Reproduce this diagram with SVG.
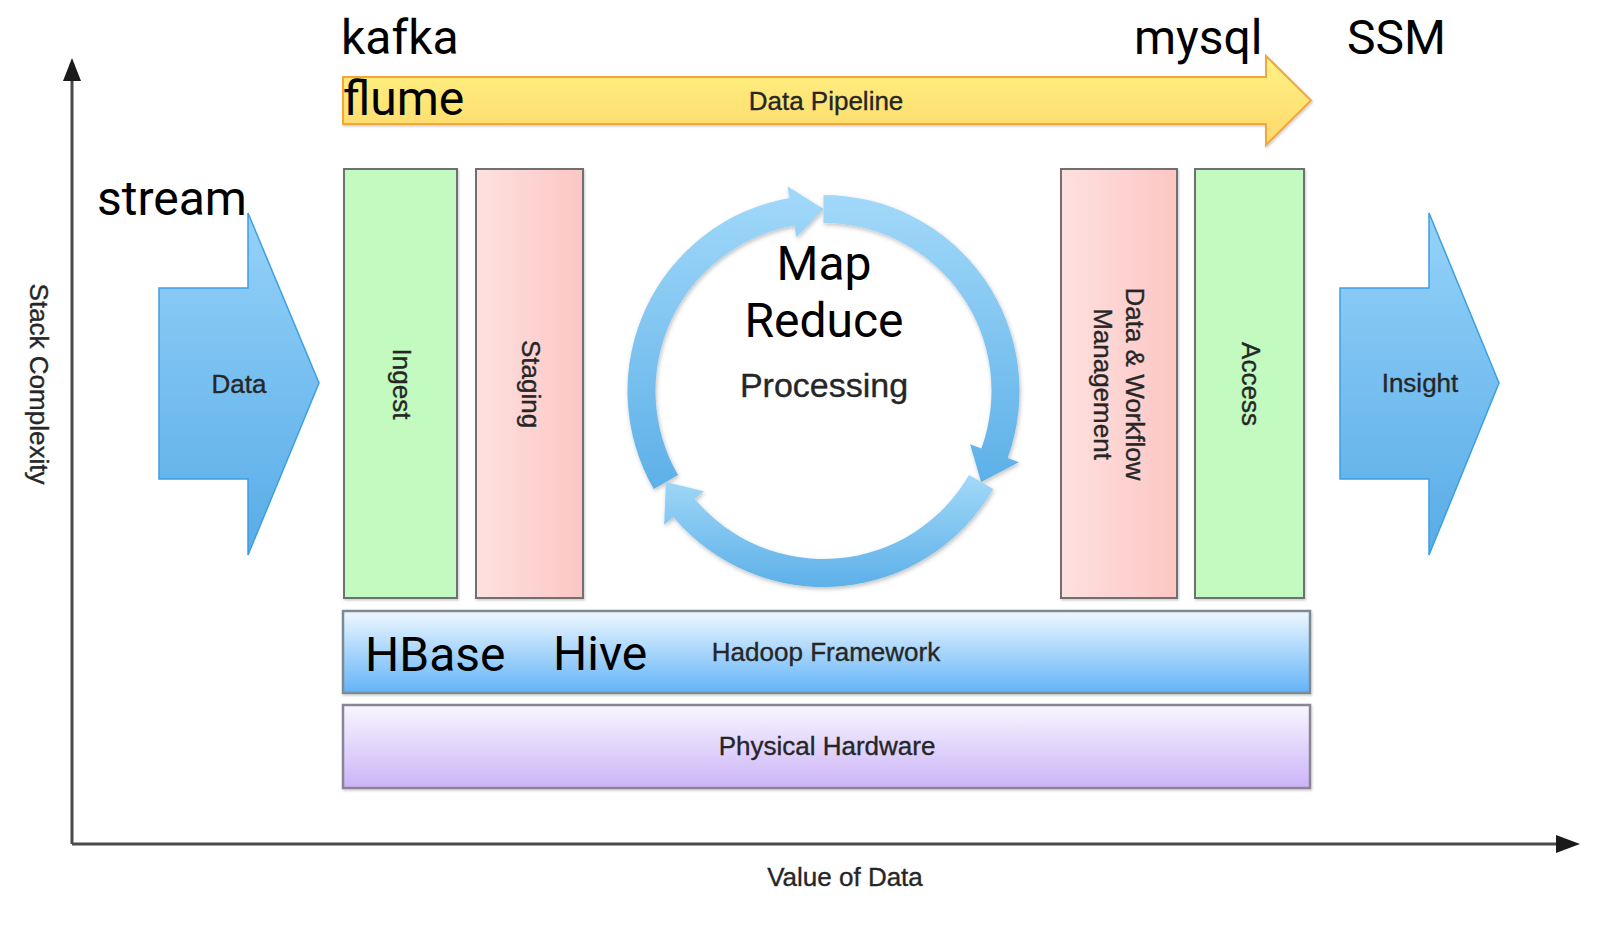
<svg xmlns="http://www.w3.org/2000/svg" width="1604" height="928" viewBox="0 0 1604 928">
  <style>
    .big { font-family: Roboto, "Noto Sans", sans-serif; font-size: 48px; fill: #000; }
    .lbl { font-family: "Liberation Sans", Arial, sans-serif; font-size: 26px; fill: #262626; stroke: #262626; stroke-width: 0.35; }
    .box { stroke: #707070; stroke-width: 2; }
    .axis { stroke: #4a4a4a; stroke-width: 3; fill: none; }
    .ring { fill: url(#ringGrad); filter: url(#shadow); }
  </style>
  <defs>
    <linearGradient id="ringGrad" x1="0" y1="0" x2="0" y2="1">
      <stop offset="0" stop-color="#a2d9f9"/>
      <stop offset="1" stop-color="#5db0e8"/>
    </linearGradient>
    <linearGradient id="blueArrow" x1="0" y1="0" x2="0" y2="1">
      <stop offset="0" stop-color="#95d2f9"/>
      <stop offset="1" stop-color="#58ace7"/>
    </linearGradient>
    <linearGradient id="pipeGrad" x1="0" y1="0" x2="0" y2="1">
      <stop offset="0" stop-color="#fff283"/>
      <stop offset="1" stop-color="#fdd96a"/>
    </linearGradient>
    <linearGradient id="pinkGrad" x1="0" y1="0" x2="1" y2="0">
      <stop offset="0" stop-color="#fde1df"/>
      <stop offset="1" stop-color="#fcc6c4"/>
    </linearGradient>
    <linearGradient id="hadoopGrad" x1="0" y1="0" x2="0" y2="1">
      <stop offset="0" stop-color="#eef8ff"/>
      <stop offset="1" stop-color="#62b3f8"/>
    </linearGradient>
    <linearGradient id="physGrad" x1="0" y1="0" x2="0" y2="1">
      <stop offset="0" stop-color="#f7f7ff"/>
      <stop offset="1" stop-color="#ccb3f8"/>
    </linearGradient>
    <filter id="shadow" x="-10%" y="-10%" width="120%" height="120%">
      <feDropShadow dx="1" dy="2" stdDeviation="2" flood-color="#000" flood-opacity="0.25"/>
    </filter>
    <filter id="soft" x="-5%" y="-5%" width="110%" height="110%">
      <feDropShadow dx="1" dy="1.5" stdDeviation="1.2" flood-color="#000" flood-opacity="0.2"/>
    </filter>
  </defs>

  <rect width="1604" height="928" fill="#fff"/>

  <g id="connectors">
    <g id="y-axis">
      <line class="axis" x1="72" y1="844" x2="72" y2="76"/>
      <polygon points="72,58 63,81 81,81" fill="#1a1a1a"/>
    </g>
    <g id="x-axis">
      <line class="axis" x1="72" y1="844" x2="1560" y2="844"/>
      <polygon points="1580,844 1556,835 1556,853" fill="#1a1a1a"/>
    </g>
  </g>

  <g id="axis-labels">
    <text class="lbl" text-anchor="middle" transform="translate(30,384) rotate(90)">Stack Complexity</text>
    <text class="lbl" x="845" y="886" text-anchor="middle">Value of Data</text>
  </g>

  <g id="pipeline">
    <polygon points="343,77 1266,77 1266,56 1311,100.5 1266,145 1266,124 343,124" fill="url(#pipeGrad)" stroke="#f4a53a" stroke-width="2" filter="url(#soft)"/>
    <text class="lbl" x="826" y="110" text-anchor="middle">Data Pipeline</text>
  </g>

  <g id="data">
    <polygon points="159,288 248,288 248,213 319,383 248,555 248,479 159,479" fill="url(#blueArrow)" stroke="#3d9fe3" stroke-width="1.5"/>
    <text class="lbl" x="239" y="393" text-anchor="middle">Data</text>
  </g>

  <g id="ingest">
    <rect class="box" x="344" y="169" width="113" height="429" fill="#c2fac0" filter="url(#soft)"/>
    <text class="lbl" text-anchor="middle" y="8" transform="translate(400.5,384) rotate(90)">Ingest</text>
  </g>

  <g id="staging">
    <rect class="box" x="476" y="169" width="107" height="429" fill="url(#pinkGrad)" filter="url(#soft)"/>
    <text class="lbl" text-anchor="middle" y="8" transform="translate(529.5,384) rotate(90)">Staging</text>
  </g>

  <g id="processing">
    <path class="ring" d="M653.76,489 A196,196 0 0 1 789.46,197.98 L787.38,186.16 L823.5,209 L796.41,237.37 L794.33,225.55 A168,168 0 0 0 678.01,475 Z"/>
    <path class="ring" d="M823.5,195 A196,196 0 0 1 1007.68,458.04 L1018.96,462.14 L981.11,482 L970.09,444.36 L981.37,448.46 A168,168 0 0 0 823.5,223 Z"/>
    <path class="ring" d="M993.24,489 A196,196 0 0 1 673.36,516.99 L664.16,524.7 L665.89,482 L704,491.28 L694.81,498.99 A168,168 0 0 0 968.99,475 Z"/>
    <text class="big" x="824" y="280" text-anchor="middle">Map</text>
    <text class="big" x="824" y="337" text-anchor="middle">Reduce</text>
    <text class="lbl" x="824" y="397" text-anchor="middle" style="font-size:34px">Processing</text>
  </g>

  <g id="data-workflow-management">
    <rect class="box" x="1061" y="169" width="116" height="429" fill="url(#pinkGrad)" filter="url(#soft)"/>
    <text class="lbl" text-anchor="middle" transform="translate(1119,384) rotate(90)"><tspan x="0" y="-7">Data &amp; Workflow</tspan><tspan x="0" y="25">Management</tspan></text>
  </g>

  <g id="access">
    <rect class="box" x="1195" y="169" width="109" height="429" fill="#c2fac0" filter="url(#soft)"/>
    <text class="lbl" text-anchor="middle" y="8" transform="translate(1249.5,384) rotate(90)">Access</text>
  </g>

  <g id="insight">
    <polygon points="1340,288 1429,288 1429,213 1499,383 1429,555 1429,479 1340,479" fill="url(#blueArrow)" stroke="#3d9fe3" stroke-width="1.5"/>
    <text class="lbl" x="1420" y="392" text-anchor="middle">Insight</text>
  </g>

  <g id="hadoop-framework">
    <rect x="343" y="611" width="967" height="82" fill="url(#hadoopGrad)" stroke="#7d8a94" stroke-width="2.5" filter="url(#soft)"/>
    <text class="lbl" x="826" y="661" text-anchor="middle">Hadoop Framework</text>
    <text class="big" x="365" y="671">HBase</text>
    <text class="big" x="553" y="670">Hive</text>
  </g>

  <g id="physical-hardware">
    <rect x="343" y="705" width="967" height="83" fill="url(#physGrad)" stroke="#8a8494" stroke-width="2.5" filter="url(#soft)"/>
    <text class="lbl" x="827" y="755" text-anchor="middle">Physical Hardware</text>
  </g>

  <g id="annotations">
    <text class="big" x="341" y="54">kafka</text>
    <text class="big" x="343" y="115">flume</text>
    <text class="big" x="97" y="215">stream</text>
    <text class="big" x="1134" y="54">mysql</text>
    <text class="big" x="1347" y="54">SSM</text>
  </g>
</svg>
